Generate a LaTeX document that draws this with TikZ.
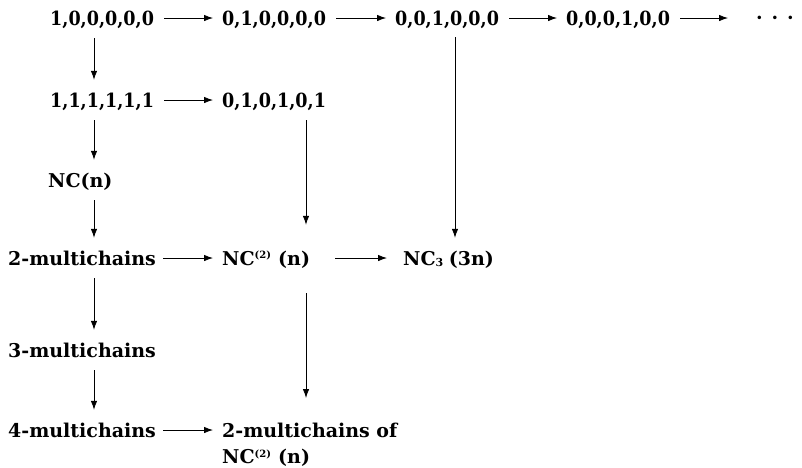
\documentclass[tikz,border=0pt]{standalone}
\usepackage{fontspec}
\setmainfont{DejaVu Serif}
\newfontfamily\narrowserif[FakeStretch=0.9]{DejaVu Serif}
\usetikzlibrary{arrows.meta}
\tikzset{
  lblfont/.style={inner xsep=0pt, inner ysep=0pt,
    font=\fontsize{19}{26}\selectfont\bfseries},
  lbl/.style={lblfont, anchor=west, text height=15pt, text depth=1pt},
  seq/.style={lbl, font=\fontsize{19.5}{26}\selectfont\narrowserif\bfseries},
  arr/.style={-{Latex[length=9pt,width=6.5pt]}, line width=0.8pt},
  harr/.style={arr, shorten <=10pt, shorten >=9pt},
  varr/.style={arr, shorten <=12pt, shorten >=12pt}
}
\newcommand{\supr}[1]{\textsuperscript{\fontsize{10}{10}\selectfont #1}}
\newcommand{\subs}[1]{\raisebox{-1pt}{\fontsize{11}{11}\selectfont #1}}
\begin{document}
\begin{tikzpicture}[x=1pt,y=-1pt]
\useasboundingbox (0,0) rectangle (802,467);
% top row: unit vectors
\node[seq] (e1) at (50,18)  {1,0,0,0,0,0};
\node[seq] (e2) at (222,18) {0,1,0,0,0,0};
\node[seq] (e3) at (395,18) {0,0,1,0,0,0};
\node[seq] (e4) at (566,18) {0,0,0,1,0,0};
\node[lbl] (dots) at (756,17) {·\hspace{8.8pt}·\hspace{8.8pt}·};
% second row
\node[seq] (f1) at (50,100)  {1,1,1,1,1,1};
\node[seq] (f2) at (222,100) {0,1,0,1,0,1};
% left column and the rest
\node[lbl] (nc)  at (48,180) {NC(n)};
\node[lbl] (m2)  at (8,258)  {2-multichains};
\node[lbl] (nc2) at (222,258) {NC\supr{(2)} (n)};
\node[lbl] (nc3) at (403,258) {NC\subs{3}\hspace{-1pt} (3n)};
\node[lbl] (m3)  at (8,350)  {3-multichains};
\node[lbl] (m4)  at (8,430)  {4-multichains};
\node[lblfont, anchor=north west, align=left] (mc) at (222,423)
  {2-multichains of\\NC\supr{(2)} (n)};
% column guides
\coordinate (c1) at (94,0);
\coordinate (c2) at (306,0);
\coordinate (c3) at (455,0);
% horizontal arrows
\draw[harr] (e1) -- (e2);
\draw[harr] (e2) -- (e3);
\draw[harr] (e3) -- (e4);
\draw[harr, shorten >=28pt] (e4.east) -- (dots.west |- e4.east);
\draw[harr] (f1) -- (f2);
\draw[harr, shorten <=7pt] (m2) -- (nc2);
\draw[harr, shorten <=25pt, shorten >=16pt] (nc2) -- (nc3);
\draw[harr, shorten <=7pt] (m4.east) -- (m4.east -| mc.west);
% vertical arrows
\draw[varr] (e1.south -| c1) -- (f1.north -| c1);
\draw[varr] (f1.south -| c1) -- (nc.north -| c1);
\draw[varr] (nc.south -| c1) -- (m2.north -| c1);
\draw[varr] (m2.south -| c1) -- (m3.north -| c1);
\draw[varr] (m3.south -| c1) -- (m4.north -| c1);
\draw[varr, shorten >=25pt] (f2.south -| c2) -- (nc2.north -| c2);
\draw[varr, shorten <=27pt, shorten >=25pt] (nc2.south -| c2) -- (mc.north -| c2);
\draw[varr, shorten <=11pt] (e3.south -| c3) -- (nc3.north -| c3);
\end{tikzpicture}
\end{document}
